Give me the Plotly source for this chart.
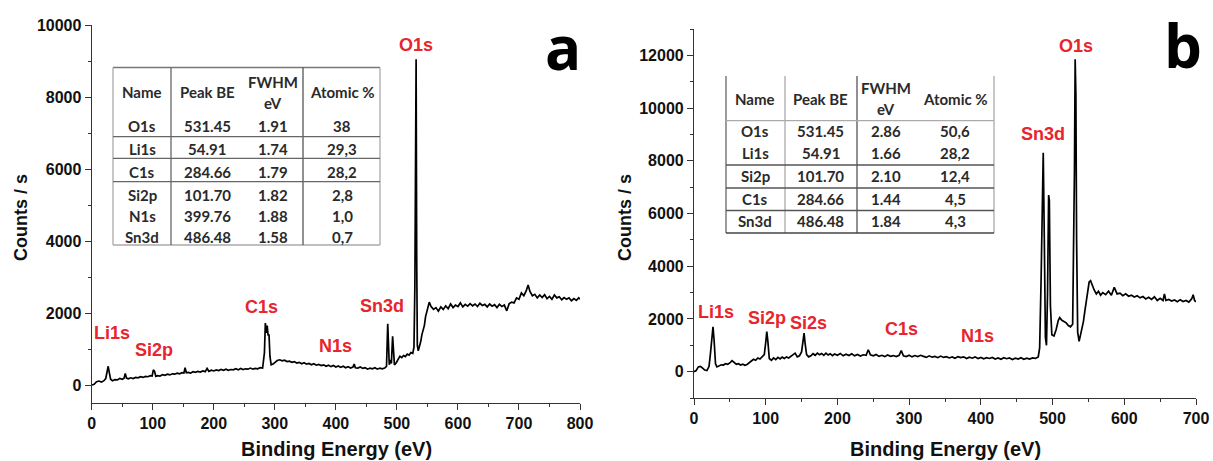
import plotly.graph_objects as go

# ---- spectrum a ----
be_a = [0, 4, 8, 12, 16, 20, 23, 25, 27, 29, 31, 34, 38, 42, 46, 50, 53, 55, 57, 60,
        64, 68, 72, 76, 80, 84, 88, 92, 96, 99, 101, 103, 105, 108, 112, 116, 120, 124, 128, 132,
        136, 140, 144, 148, 151, 153, 155, 158, 162, 166, 170, 174, 178, 182, 186, 189, 192, 196, 200, 204,
        208, 212, 216, 220, 224, 228, 232, 236, 240, 244, 248, 252, 256, 260, 264, 268, 272, 276, 280, 283,
        284.5, 286, 287.5, 289, 290.5, 292, 294, 297, 300, 304, 308, 312, 316, 320, 324, 328, 332, 336, 340, 344,
        348, 352, 356, 360, 364, 368, 372, 376, 380, 384, 388, 392, 396, 400, 404, 408, 412, 416, 420, 424,
        428, 430, 432, 436, 440, 444, 448, 452, 456, 460, 464, 468, 472, 476, 480, 483, 485, 486.5, 487.5, 489,
        491, 493, 494.5, 496, 499, 502, 505, 508, 511, 514, 517, 520, 523, 526, 528, 529.5, 530.5, 531.5, 532.5, 533.5,
        535, 537, 539, 541, 543, 545, 547, 549, 551, 553, 556, 560, 564, 568, 572, 576, 580, 584, 588, 592,
        596, 600, 604, 608, 612, 616, 620, 624, 628, 632, 636, 640, 644, 648, 652, 656, 660, 664, 668, 672,
        676, 680, 684, 688, 692, 696, 700, 704, 708, 712, 715, 718, 722, 726, 730, 734, 738, 742, 746, 750,
        754, 758, 762, 766, 770, 774, 778, 782, 786, 790, 794, 798, 800]
counts_a = [0, 20, 90, 110, 80, 120, 180, 380, 520, 330, 160, 120, 150, 140, 180, 160, 190, 320, 190, 170,
            200, 180, 210, 200, 230, 210, 240, 230, 260, 250, 420, 380, 240, 260, 250, 290, 270, 300, 280, 310,
            300, 330, 310, 340, 330, 480, 340, 350, 330, 370, 350, 380, 360, 390, 370, 460, 380, 410, 390, 420,
            400, 430, 410, 440, 410, 430, 420, 450, 420, 460, 430, 450, 440, 470, 440, 460, 450, 480, 470, 900,
            1720, 1450, 1650, 1380, 1400, 800, 560, 580, 620, 680, 700, 670, 690, 650, 660, 630, 650, 610, 630, 590,
            620, 580, 600, 560, 590, 550, 570, 540, 560, 520, 550, 510, 540, 500, 530, 490, 520, 480, 510, 470,
            500, 580, 480, 470, 500, 460, 480, 440, 470, 450, 480, 440, 470, 450, 470, 520, 1700, 1200, 560, 700,
            600, 1350, 900, 560, 620, 700, 800, 760, 820, 790, 860, 830, 900, 880, 1050, 2800, 8300, 9050, 3500, 1100,
            950, 1050, 1200, 1400, 1550, 1650, 1900, 2050, 2200, 2300, 2180, 2100, 2150, 2050, 2170, 2100, 2200, 2120, 2250, 2150,
            2220, 2180, 2280, 2170, 2240, 2190, 2260, 2200, 2250, 2180, 2270, 2210, 2240, 2170, 2250, 2190, 2230, 2150, 2240, 2180,
            2220, 2060, 2260, 2300, 2280, 2420, 2380, 2560, 2480, 2620, 2780, 2600, 2480, 2520, 2420, 2500, 2430, 2510, 2400, 2460,
            2380, 2500, 2420, 2450, 2370, 2430, 2380, 2420, 2340, 2400, 2350, 2420, 2380]

# ---- spectrum b ----
be_b = [0, 3, 6, 9, 12, 15, 18, 21, 23, 25, 26.5, 28, 30, 32, 35, 38, 41, 44, 47, 50,
        53, 56, 59, 62, 65, 68, 71, 74, 77, 80, 83, 86, 89, 92, 95, 98, 100, 101.5, 103, 105,
        108, 111, 114, 117, 120, 123, 126, 129, 132, 135, 138, 141, 144, 147, 150, 152, 153.5, 155, 157, 160,
        163, 166, 169, 172, 175, 178, 181, 184, 187, 190, 193, 196, 200, 204, 208, 212, 216, 220, 224, 228,
        232, 236, 240, 243, 246, 250, 254, 258, 262, 266, 270, 274, 278, 282, 286, 289, 292, 296, 300, 304,
        308, 312, 316, 320, 324, 328, 332, 336, 340, 344, 348, 352, 356, 360, 364, 368, 372, 376, 380, 384,
        388, 392, 396, 400, 404, 408, 412, 416, 420, 424, 428, 432, 436, 440, 444, 448, 452, 456, 460, 464,
        468, 472, 476, 480, 482, 484, 486, 487, 488.5, 490, 491.5, 493, 494.5, 495.5, 497, 499, 502, 505, 508, 510,
        513, 516, 519, 522, 525, 528, 529.5, 530.5, 531.5, 532.5, 533.5, 535, 537, 539, 541, 543, 545, 547, 549, 551,
        553, 555, 558, 561, 564, 567, 570, 574, 578, 582, 586, 590, 594, 598, 602, 606, 610, 614, 618, 622,
        626, 630, 634, 638, 642, 646, 650, 654, 656, 658, 662, 666, 670, 674, 678, 682, 686, 690, 694, 696,
        698, 700]
counts_b = [0, 40, 180, 200, 130, 60, 40, 200, 700, 1400, 1700, 1200, 300, 180, 220, 260, 250, 300, 280, 330,
            420, 350, 280, 300, 250, 280, 240, 270, 330, 380, 470, 430, 520, 480, 560, 650, 1100, 1520, 1150, 500,
            430, 520, 460, 540, 480, 550, 500, 560, 520, 580, 620, 700, 560, 600, 750, 1200, 1460, 1050, 650, 560,
            600, 680, 620, 700, 640, 690, 620, 700, 630, 680, 610, 670, 620, 690, 600, 660, 610, 680, 600, 650,
            590, 640, 620, 830, 640, 600, 650, 580, 620, 570, 630, 580, 610, 570, 620, 800, 600, 570, 620, 560,
            610, 570, 620, 580, 540, 600, 550, 580, 530, 590, 540, 570, 520, 560, 510, 570, 530, 560, 500, 550,
            510, 560, 500, 540, 490, 530, 500, 540, 480, 520, 470, 530, 490, 520, 460, 510, 480, 530, 470, 510,
            480, 520, 500, 560, 900, 3500, 8200, 8300, 5000, 1300, 1000, 3000, 6700, 6500, 2500, 1400, 1350, 1600, 1950, 2050,
            1950, 1900, 1850, 1750, 1700, 1800, 5000, 7600, 11850, 10500, 5000, 1500, 1150, 1400, 1700, 1900, 2300, 2700, 3100, 3400,
            3450, 3300, 3100, 2950, 3050, 2900, 3000, 2920, 3050, 2900, 3200, 2950, 2980, 2880, 2950, 2860, 2900, 2830, 2880, 2800,
            2850, 2760, 2820, 2740, 2840, 2700, 2780, 2700, 2950, 2700, 2740, 2680, 2720, 2650, 2730, 2660, 2700, 2640, 2760, 2920,
            2700, 2650]

# ---- peak labels ----
labels_a = ["Li1s", "Si2p", "C1s", "N1s", "Sn3d", "O1s"]
label_x_a = [33, 102, 278, 399, 476, 532]
label_y_a = [1450, 970, 2170, 1090, 2200, 9450]
labels_b = ["Li1s", "Si2p", "Si2s", "C1s", "N1s", "Sn3d", "O1s"]
label_x_b = [31, 102, 159, 289, 395, 487, 532]
label_y_b = [2280, 2030, 1860, 1620, 1370, 9020, 12350]

# ---- tables ----
header = ["Name", "Peak BE", "FWHM", "Atomic %"]
tab_a_name = ["O1s", "Li1s", "C1s", "Si2p", "N1s", "Sn3d"]
tab_a_be = ["531.45", "54.91", "284.66", "101.70", "399.76", "486.48"]
tab_a_fwhm = ["1.91", "1.74", "1.79", "1.82", "1.88", "1.58"]
tab_a_at = ["38", "29,3", "28,2", "2,8", "1,0", "0,7"]
tab_b_name = ["O1s", "Li1s", "Si2p", "C1s", "Sn3d"]
tab_b_be = ["531.45", "54.91", "101.70", "284.66", "486.48"]
tab_b_fwhm = ["2.86", "1.66", "2.10", "1.44", "1.84"]
tab_b_at = ["50,6", "28,2", "12,4", "4,5", "4,3"]

W, H = 1213, 461


def px(x):
    return x / W


def py(y):
    return 1 - y / H


RED = "#e8242c"
fig = go.Figure()
fig.add_trace(go.Scatter(x=be_a, y=counts_a, mode="lines", line=dict(color="black", width=1.7),
                         xaxis="x", yaxis="y", showlegend=False))
fig.add_trace(go.Scatter(x=be_b, y=counts_b, mode="lines", line=dict(color="black", width=1.7),
                         xaxis="x2", yaxis="y2", showlegend=False))

ann = []
lfont = dict(family="Liberation Sans", size=18, color=RED, weight="bold")
for t, x, y in zip(labels_a, label_x_a, label_y_a):
    ann.append(dict(x=x, y=y, xref="x", yref="y", text=t, showarrow=False, font=lfont,
                    xanchor="center", yanchor="middle"))
for t, x, y in zip(labels_b, label_x_b, label_y_b):
    ann.append(dict(x=x, y=y, xref="x2", yref="y2", text=t, showarrow=False, font=lfont,
                    xanchor="center", yanchor="middle"))


def paper_text(x, y, t, font, angle=0):
    ann.append(dict(x=px(x), y=py(y), xref="paper", yref="paper", text=t, showarrow=False,
                    xanchor="center", yanchor="middle", textangle=angle, font=font))


# panel letters and axis titles
letter_font = dict(family="Open Sans", size=60, color="black", weight="bold")
paper_text(563, 47, "a", letter_font)
paper_text(1183, 45, "b", letter_font)
xt_font = dict(family="Liberation Sans", size=20, color="#111", weight="bold")
yt_font = dict(family="Liberation Sans", size=18, color="#111", weight="bold")
for cx in [336, 945]:
    paper_text(cx, 449, "Binding Energy (eV)", xt_font)
for cx in [21, 625]:
    paper_text(cx, 218, "Counts / s", yt_font, -90)

tfont = dict(family="Lato", size=15, color="#2a2a2a", weight="bold")


def cell(x, y, t):
    paper_text(x, y, t, tfont)


shapes = []


def hline(y, x0, x1, c):
    shapes.append(dict(type="line", xref="paper", yref="paper", x0=px(x0), x1=px(x1), y0=py(y), y1=py(y),
                       line=dict(color=c, width=1.3)))


def vline(x, y0, y1, c):
    shapes.append(dict(type="line", xref="paper", yref="paper", x0=px(x), x1=px(x), y0=py(y0), y1=py(y1),
                       line=dict(color=c, width=1.3)))


# table a
cols_a = [142, 207, 273, 342]
rows_a = [126, 149, 172, 195, 216, 237]
cell(cols_a[0], 92, header[0]); cell(cols_a[1], 92, header[1])
cell(cols_a[2], 82, header[2]); cell(cols_a[2], 103, "eV"); cell(cols_a[3], 92, header[3])
for i, r in enumerate(rows_a):
    for c, v in zip(cols_a, [tab_a_name[i], tab_a_be[i], tab_a_fwhm[i], tab_a_at[i]]):
        cell(c, r, v)
L, R, T, B = 113, 380, 67.5, 245
hline(T, L, R, "#777"); hline(B, L, R, "#aaa")
vline(L, T, B, "#aaa"); vline(R, T, B, "#aaa")
vline(171, T, B, "#666"); vline(303, T, B, "#555")
for y in [136.7, 158.3, 181.7]:
    hline(y, L, R, "#666")

# table b
cols_b = [755, 821, 886, 955]
rows_b = [131, 153, 176, 199, 221]
cell(cols_b[0], 99, header[0]); cell(cols_b[1], 99, header[1])
cell(cols_b[2], 88, header[2]); cell(cols_b[2], 109, "eV"); cell(cols_b[3], 99, header[3])
for i, r in enumerate(rows_b):
    for c, v in zip(cols_b, [tab_b_name[i], tab_b_be[i], tab_b_fwhm[i], tab_b_at[i]]):
        cell(c, r, v)
L, R, T, B = 726, 994, 76, 233
vline(L, T, B, "#666"); vline(R, T, B, "#aaa")
vline(785, T, B, "#aaa"); vline(857, T, B, "#555")
hline(120.7, L, R, "#aaa")
for y in [165, 188, 210.5]:
    hline(y, L, R, "#555")
hline(B, L, R, "#444")

ax_common = dict(showline=True, linecolor="#333", linewidth=1.2, ticks="outside", ticklen=6, tickcolor="#333",
                 showgrid=False, zeroline=False, automargin=False, tickformat="d",
                 tickfont=dict(family="Liberation Sans", size=16, color="#111", weight="bold"))

fig.update_layout(
    width=W, height=H, margin=dict(l=0, r=0, t=0, b=0, autoexpand=False),
    plot_bgcolor="white", paper_bgcolor="white", showlegend=False,
    xaxis=dict(domain=[px(91.7), px(580)], range=[0, 800], dtick=100, anchor="y",
               minor=dict(dtick=50, ticks="outside", ticklen=3, tickcolor="#333"), **ax_common),
    yaxis=dict(domain=[py(403), py(25)], range=[-500, 10000], dtick=2000, anchor="x",
               minor=dict(dtick=1000, ticks="outside", ticklen=3, tickcolor="#333"), **ax_common),
    xaxis2=dict(domain=[px(694), px(1196)], range=[0, 700], dtick=100, anchor="y2",
                minor=dict(dtick=50, ticks="outside", ticklen=3, tickcolor="#333"), **ax_common),
    yaxis2=dict(domain=[py(398), py(29)], range=[-1000, 13000], dtick=2000, anchor="x2",
                minor=dict(dtick=1000, ticks="outside", ticklen=3, tickcolor="#333"), **ax_common),
    annotations=ann, shapes=shapes,
)

fig.write_html("out.html", config={"displayModeBar": False},
               post_script="document.body.style.margin='0';")
